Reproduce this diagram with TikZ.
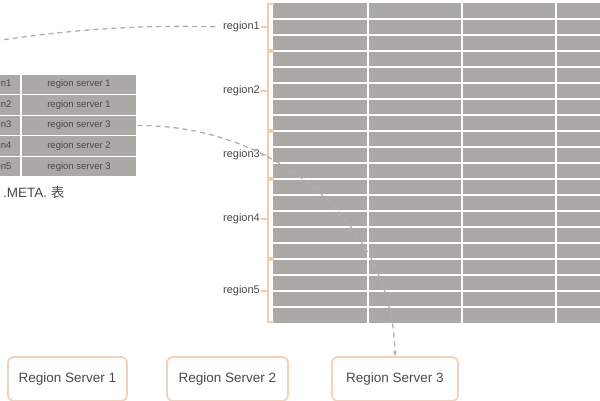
\documentclass[tikz,border=0pt]{standalone}
\usepackage{fontspec}
\setmainfont{Liberation Sans}
\newfontfamily\cjk{Noto Sans CJK SC}
\usetikzlibrary{arrows.meta}
\definecolor{cellgrey}{HTML}{ABA9A5}
\definecolor{bracecol}{HTML}{F3CBAA}
\definecolor{boxline}{HTML}{F1D2BA}
\definecolor{txt}{HTML}{4A4A4A}
\definecolor{dashcol}{HTML}{B9ADA3}
\begin{document}
\begin{tikzpicture}[x=1pt,y=-1pt,
  cell/.style={draw=white,line width=1.3pt,fill=cellgrey,minimum height=20.6pt,inner sep=0pt,text=txt,font=\fontsize{9.5}{10}\selectfont},
  keycell/.style={cell,minimum width=51pt},
  valcell/.style={cell,minimum width=116pt},
  lbl/.style={text=txt,font=\fontsize{11}{12}\selectfont,inner sep=1pt,anchor=east},
  bracket/.style={draw=bracecol,line width=1.8pt},
  server/.style={draw=boxline,line width=1.8pt,rounded corners=6pt,fill=white,minimum height=44pt,text=txt,font=\fontsize{13.5}{15}\selectfont},
  dashline/.style={draw=dashcol,line width=1.3pt,dash pattern=on 5pt off 4pt}
]
\useasboundingbox (0,0) rectangle (600,400);
% big grid of rows
\fill[cellgrey] (273,3) rectangle (612,323);
\foreach \k in {1,...,19} {
  \draw[white,line width=1.4pt] (273,3+16*\k) -- (612,3+16*\k);
}
\foreach \xx in {368,462,556} {
  \draw[white,line width=1.4pt] (\xx,3) -- (\xx,323);
}
% META table
\foreach \i/\s in {1/1,2/1,3/3,4/2,5/3} {
  \node[keycell] (k\i) at (-4.5,{74+20.6*(\i-0.5)}) {region\i};
  \node[valcell] (v\i) at (79,{74+20.6*(\i-0.5)}) {region server \s};
}
\node[anchor=north west,inner sep=0pt,text=txt,font=\fontsize{13.5}{15}\selectfont] (meta) at (3,186) {.META. {\cjk 表}};
% region labels and brackets
\foreach \i/\t/\b in {1/3/51,2/51/131,3/131/179,4/179/259,5/259/323} {
  \node[lbl] (r\i) at (261,{(\t+\b)/2}) {region\i};
  \draw[bracket] (273.5,\t+1) -- (268,\t+1) -- (268,\b-1) -- (273.5,\b-1);
  \draw[bracket] (r\i.east) -- (268,{(\t+\b)/2});
}
% region servers
\node[server,minimum width=119pt] (s1) at (67.5,379) {Region Server 1};
\node[server,minimum width=121pt] (s2) at (227.5,379) {Region Server 2};
\node[server,minimum width=126pt] (s3) at (395,379) {Region Server 3};
% dashed connectors
\coordinate (src) at (-5,41);
\draw[dashline,shorten >=4pt] (src) .. controls (80,28) and (150,25) .. (r1.west);
\draw[dashline,-{Stealth[length=5pt,width=4pt]}] (v3.east) .. controls (279,125) and (393,227) .. (s3.north);
\end{tikzpicture}
\end{document}
